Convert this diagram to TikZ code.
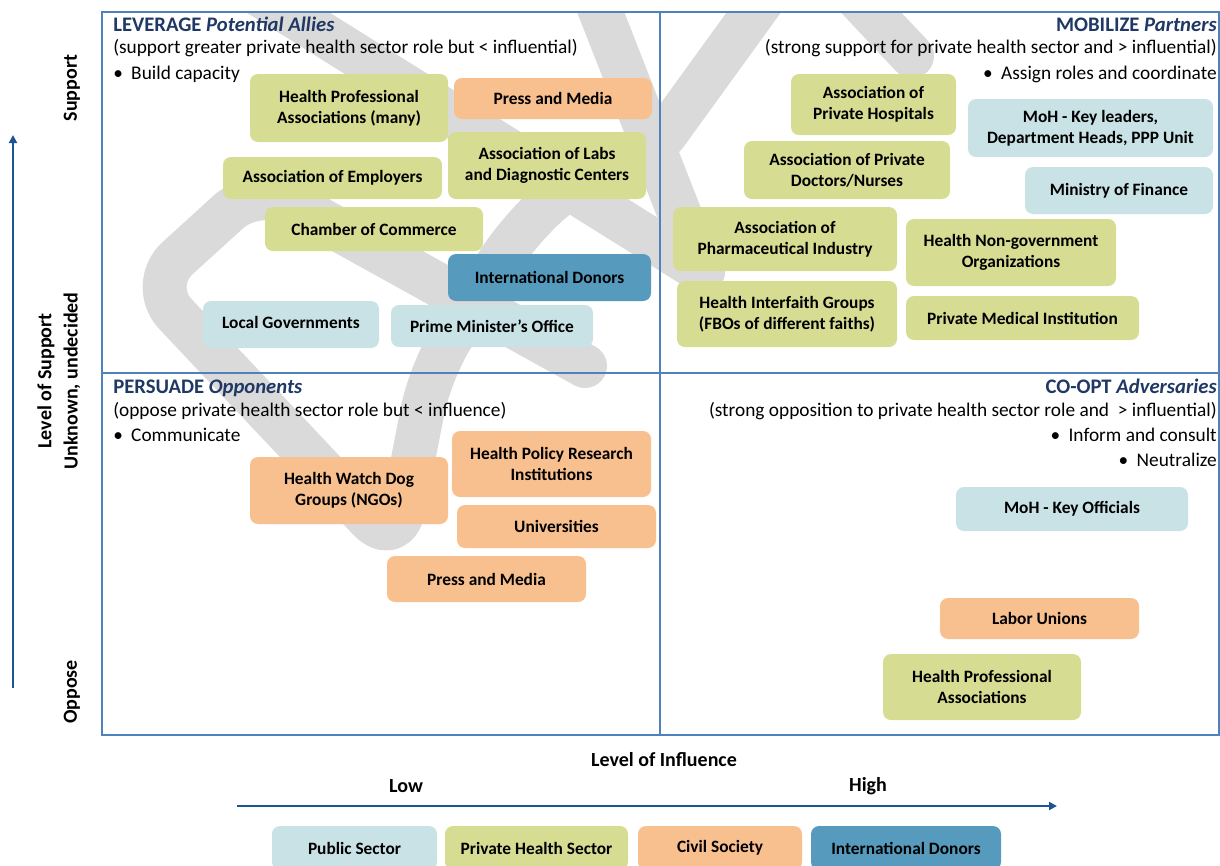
\documentclass[tikz,border=0pt]{standalone}
\usepackage{fontspec}
\setmainfont{Carlito}
\usetikzlibrary{arrows.meta}

\definecolor{frameblue}{RGB}{79,129,189}
\definecolor{axisblue}{RGB}{30,84,148}
\definecolor{headnavy}{RGB}{31,56,100}
\definecolor{pubfill}{RGB}{201,226,230}
\definecolor{privfill}{RGB}{214,220,145}
\definecolor{civfill}{RGB}{249,192,143}
\definecolor{donfill}{RGB}{86,155,190}
\definecolor{markgrey}{RGB}{218,218,218}

\tikzset{
  actor/.style={rounded corners=6pt, inner sep=0pt, align=center,
    font=\bfseries\fontsize{13}{15.5}\selectfont},
  wh/.style 2 args={minimum width=#1*0.75pt, minimum height=#2*0.75pt},
  pub/.style={actor, fill=pubfill},
  priv/.style={actor, fill=privfill},
  civ/.style={actor, fill=civfill},
  don/.style={actor, fill=donfill},
  heading/.style={inner sep=0pt, text=headnavy, font=\bfseries\fontsize{15.5}{18}\selectfont},
  body/.style={inner sep=0pt, font=\fontsize{14.5}{17}\selectfont},
  axislabel/.style={inner sep=0pt, font=\bfseries\fontsize{15}{18}\selectfont},
  axisarrow/.style={draw=axisblue, line width=1.5pt, -{Triangle[length=6pt, width=6pt]}},
  emblem/.style={draw=markgrey, line width=33pt, line cap=round, line join=round},
}
\newcommand{\bul}{\makebox[13.5pt][l]{•}}

\begin{document}
\begin{tikzpicture}[x=0.75pt, y=-0.75pt]
\useasboundingbox (0,0) rectangle (1220,865);
\clip (0,0) rectangle (1220,865);

% faint background emblem
\begin{scope}
  \clip (102,12) rectangle (1219,735);
  \draw[emblem, rounded corners=30pt] (585,366) -- (258,185) -- (148,285) -- (396,548)
       -- (430,372) -- (520,228) -- (600,160);
  \draw[emblem] (252,-10) -- (703,272);
  \draw[emblem] (592,-10) -- (700,266);
  \draw[emblem] (770,-10) -- (665,135);
  \draw[emblem] (850,-10) -- (912,56);
\end{scope}

% quadrant frame
\draw[frameblue, line width=1.5pt] (102,12) rectangle (1219,735);
\draw[frameblue, line width=1.5pt] (660,12) -- (660,735);
\draw[frameblue, line width=1.5pt] (102,373) -- (1219,373);

% quadrant headings
\node[heading, anchor=base west] (hLev) at (113,31) {LEVERAGE \textit{Potential Allies}};
\node[body, anchor=base west] (dLev) at (113,53) {(support greater private health sector role but < influential)};
\node[body, anchor=base west] (bLev) at (113,79) {\bul Build capacity};

\node[heading, anchor=base east] (hMob) at (1217,31) {MOBILIZE \textit{Partners}};
\node[body, anchor=base east] (dMob) at (1217,53) {(strong support for private health sector and > influential)};
\node[body, anchor=base east] (bMob) at (1217,79) {\bul Assign roles and coordinate};

\node[heading, anchor=base west] (hPer) at (113,393) {PERSUADE \textit{Opponents}};
\node[body, anchor=base west] (dPer) at (113,416) {(oppose private health sector role but < influence)};
\node[body, anchor=base west] (bPer) at (113,441) {\bul Communicate};

\node[heading, anchor=base east] (hCoo) at (1217,393) {CO-OPT \textit{Adversaries}};
\node[body, anchor=base east] (dCoo) at (1217,416) {(strong opposition to private health sector role and \ > influential)};
\node[body, anchor=base east] (bCoo) at (1217,441) {\bul Inform and consult};
\node[body, anchor=base east] (bNeu) at (1217,466) {\bul Neutralize};

% LEVERAGE quadrant
\node[priv, wh={198}{68}] (hpaMany) at (349,108) {Health Professional\\Associations (many)};
\node[civ, wh={198}{41}] (pressA) at (553,98.5) {Press and Media};
\node[priv, wh={219}{42}] (employers) at (332.5,178) {Association of Employers};
\node[priv, wh={198}{67}] (labs) at (547,165.5) {Association of Labs\\and Diagnostic Centers};
\node[priv, wh={218}{44}] (chamber) at (374,229) {Chamber of Commerce};
\node[don, wh={203}{47}] (donorsA) at (549.5,277.5) {International Donors};
\node[pub, wh={176}{47}] (localgov) at (291,324.5) {\raisebox{3pt}{Local Governments}};
\node[pub, wh={202}{42}] (pmo) at (492,326) {Prime Minister’s Office};

% MOBILIZE quadrant
\node[priv, wh={165}{61}] (hospitals) at (873.5,104.5) {Association of\\Private Hospitals};
\node[pub, wh={245}{58}] (mohLead) at (1090.5,128) {MoH - Key leaders,\\Department Heads, PPP Unit};
\node[priv, wh={206}{58}] (doctors) at (847,170) {Association of Private\\Doctors/Nurses};
\node[pub, wh={188}{47}] (finance) at (1119,190.5) {Ministry of Finance};
\node[priv, wh={224}{64}] (pharma) at (785,239) {Association of\\Pharmaceutical Industry};
\node[priv, wh={210}{67}] (hngo) at (1011,252.5) {Health Non-government\\Organizations};
\node[priv, wh={220}{66}] (interfaith) at (787,314) {Health Interfaith Groups\\(FBOs of different faiths)};
\node[priv, wh={233}{44}] (pmi) at (1022.5,318) {Private Medical Institution};

% PERSUADE quadrant
\node[civ, wh={198}{67}] (watchdog) at (349,490.5) {Health Watch Dog\\Groups (NGOs)};
\node[civ, wh={199}{66}] (policy) at (551.5,464) {Health Policy Research\\Institutions};
\node[civ, wh={199}{43}] (univ) at (556.5,526.5) {Universities};
\node[civ, wh={199}{46}] (pressP) at (486.5,579) {Press and Media};

% CO-OPT quadrant
\node[pub, wh={232}{44}] (mohOff) at (1072,509) {MoH - Key Officials};
\node[civ, wh={199}{41}] (labor) at (1039.5,618.5) {Labor Unions};
\node[priv, wh={198}{66}] (hpaC) at (982,687) {Health Professional\\Associations};

% vertical axis
\coordinate (vLow) at (13,688);
\coordinate (vHigh) at (13,135);
\draw[axisarrow] (vLow) -- (vHigh);
\node[axislabel, rotate=90] (lSupport) at (72,88) {Support};
\node[axislabel, rotate=90] (lOppose) at (72,692) {Oppose};
\node[axislabel, rotate=90] (lLevel) at (46,381) {Level of Support};
\node[axislabel, rotate=90] (lUnknown) at (72,381) {Unknown, undecided};

% horizontal axis
\node[axislabel] (lInfl) at (664,760) {Level of Influence};
\node[axislabel] (lLow) at (406,786) {Low};
\node[axislabel] (lHigh) at (868,786) {High};
\coordinate (hLow) at (237,806);
\coordinate (hHigh) at (1057,806);
\draw[axisarrow] (hLow) -- (hHigh);

% legend
\node[pub, wh={165}{44}] (kPub) at (354.5,848) {Public Sector};
\node[priv, wh={183}{44}] (kPriv) at (536.5,848) {Private Health Sector};
\node[civ, wh={164}{44}] (kCiv) at (720,848) {Civil Society};
\node[don, wh={190}{44}] (kDon) at (906,848) {International Donors};
\end{tikzpicture}
\end{document}
